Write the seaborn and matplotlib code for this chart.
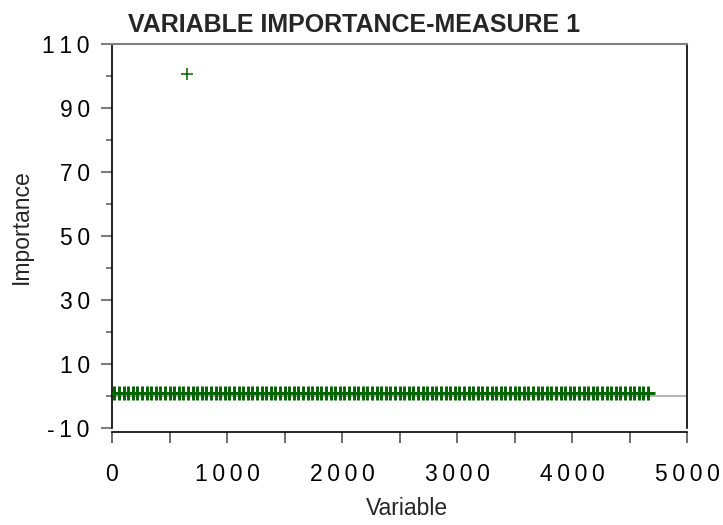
import matplotlib
matplotlib.use("Agg")
import matplotlib.pyplot as plt
import seaborn as sns
import pandas as pd
from matplotlib.ticker import FixedLocator, FixedFormatter, MultipleLocator

# ---- data ----
variable = [
    20, 60, 100, 140, 180, 220, 260, 300, 340, 380,
    420, 460, 500, 540, 580, 620, 660, 700, 740, 780,
    820, 860, 900, 940, 980, 1020, 1060, 1100, 1140, 1180,
    1220, 1260, 1300, 1340, 1380, 1420, 1460, 1500, 1540, 1580,
    1620, 1660, 1700, 1740, 1780, 1820, 1860, 1900, 1940, 1980,
    2020, 2060, 2100, 2140, 2180, 2220, 2260, 2300, 2340, 2380,
    2420, 2460, 2500, 2540, 2580, 2620, 2660, 2700, 2740, 2780,
    2820, 2860, 2900, 2940, 2980, 3020, 3060, 3100, 3140, 3180,
    3220, 3260, 3300, 3340, 3380, 3420, 3460, 3500, 3540, 3580,
    3620, 3660, 3700, 3740, 3780, 3820, 3860, 3900, 3940, 3980,
    4020, 4060, 4100, 4140, 4180, 4220, 4260, 4300, 4340, 4380,
    4420, 4460, 4500, 4540, 4580, 4620, 4660,
]
importance = [
    1.0, 1.0, 1.0, 1.0, 1.0, 1.0, 1.0, 1.0, 1.0, 1.0,
    1.0, 1.0, 1.0, 1.0, 1.0, 1.0, 1.0, 1.0, 1.0, 1.0,
    1.0, 1.0, 1.0, 1.0, 1.0, 1.0, 1.0, 1.0, 1.0, 1.0,
    1.0, 1.0, 1.0, 1.0, 1.0, 1.0, 1.0, 1.0, 1.0, 1.0,
    1.0, 1.0, 1.0, 1.0, 1.0, 1.0, 1.0, 1.0, 1.0, 1.0,
    1.0, 1.0, 1.0, 1.0, 1.0, 1.0, 1.0, 1.0, 1.0, 1.0,
    1.0, 1.0, 1.0, 1.0, 1.0, 1.0, 1.0, 1.0, 1.0, 1.0,
    1.0, 1.0, 1.0, 1.0, 1.0, 1.0, 1.0, 1.0, 1.0, 1.0,
    1.0, 1.0, 1.0, 1.0, 1.0, 1.0, 1.0, 1.0, 1.0, 1.0,
    1.0, 1.0, 1.0, 1.0, 1.0, 1.0, 1.0, 1.0, 1.0, 1.0,
    1.0, 1.0, 1.0, 1.0, 1.0, 1.0, 1.0, 1.0, 1.0, 1.0,
    1.0, 1.0, 1.0, 1.0, 1.0, 1.0, 1.0,
]
outlier_variable = [650]
outlier_importance = [100.7]

x_ticks = [0, 1000, 2000, 3000, 4000, 5000]
x_tick_labels = ["0", "1000", "2000", "3000", "4000", "5000"]
y_ticks = [-10, 10, 30, 50, 70, 90, 110]
y_tick_labels = ["-10", "10", "30", "50", "70", "90", "110"]

title = "VARIABLE IMPORTANCE-MEASURE 1"
x_label = "Variable"
y_label = "Importance"

# ---- styling ----
sns.set_style("ticks")
plt.rcParams["font.family"] = ["Liberation Sans", "DejaVu Sans"]

GREEN = "#006400"
SPACE = "\u2009"


def spaced(s):
    return SPACE.join(list(s))


df_main = pd.DataFrame({"Variable": variable, "Importance": importance})
df_out = pd.DataFrame({"Variable": outlier_variable,
                       "Importance": outlier_importance})

fig = plt.figure(figsize=(7.23, 5.25), dpi=100)
ax = fig.add_axes([112 / 723, 1 - 428 / 525, (687 - 112) / 723, (428 - 44) / 525])

ax.axhline(0, color="#b4b4b4", lw=1.5, zorder=1)
sns.scatterplot(data=df_main, x="Variable", y="Importance", marker="+",
                color=GREEN, s=90, linewidth=2.1, ax=ax, zorder=3,
                legend=False)
sns.scatterplot(data=df_out, x="Variable", y="Importance", marker="+",
                color=GREEN, s=85, linewidth=1.1, ax=ax, zorder=3,
                legend=False)

ax.set_xlim(0, 5000)
ax.set_ylim(-10, 110)

ax.xaxis.set_major_locator(FixedLocator(x_ticks))
ax.xaxis.set_major_formatter(FixedFormatter([spaced(t) for t in x_tick_labels]))
ax.xaxis.set_minor_locator(MultipleLocator(500))
ax.yaxis.set_major_locator(FixedLocator(y_ticks))
ax.yaxis.set_major_formatter(FixedFormatter([spaced(t) for t in y_tick_labels]))
ax.yaxis.set_minor_locator(MultipleLocator(10))

ax.tick_params(axis="x", which="both", length=8, width=1.2, color="#555555",
               direction="out", labelsize=16.5, pad=14, labelcolor="black")
ax.tick_params(axis="y", which="major", length=8, width=1.5, color="#808080",
               direction="out", labelsize=16.5, pad=8, labelcolor="black")
ax.tick_params(axis="y", which="minor", length=4, width=1.5, color="#808080",
               direction="out")

for side in ["left", "bottom", "right"]:
    ax.spines[side].set_color("black")
    ax.spines[side].set_linewidth(1.2)
ax.spines["top"].set_color("#808080")
ax.spines["top"].set_linewidth(1.5)
ax.spines["bottom"].set_position(("outward", 3))

ax.set_xlabel(x_label, fontsize=16.5)
ax.xaxis.set_label_coords(0.513, -0.209)
ax.xaxis.label.set_va("center")
ax.set_ylabel(y_label, fontsize=16.5)
ax.yaxis.set_label_coords(-0.158, 0.525)
ax.yaxis.label.set_va("center")
ax.set_title(title, fontsize=18, fontweight="bold", pad=9, x=0.421)

fig.savefig("out.png", dpi=100, facecolor="white")
